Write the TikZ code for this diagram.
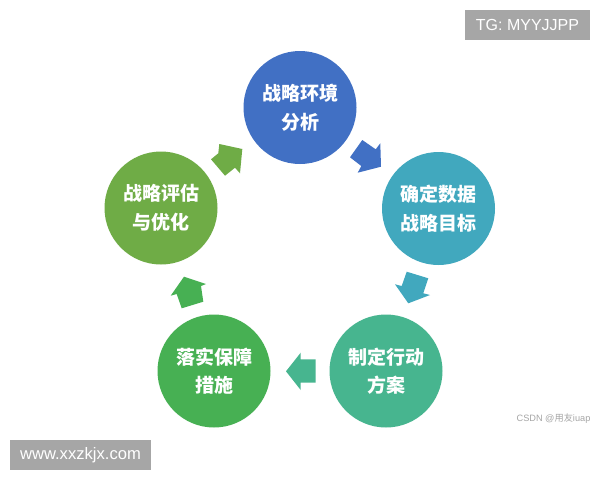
\documentclass[tikz,border=0pt]{standalone}
\usepackage{fontspec}
\setmainfont{Liberation Sans}
\newfontfamily\cjkfont{Noto Sans CJK SC}
\usepackage{tikz}
\begin{document}
\begin{tikzpicture}[x=1pt,y=-1pt,line cap=rect]
	\definecolor{custcol_blue}{RGB}{65, 112, 196}
	\definecolor{custcol_teal}{RGB}{65, 168, 190}
	\definecolor{custcol_mint}{RGB}{71, 181, 143}
	\definecolor{custcol_green}{RGB}{71, 176, 83}
	\definecolor{custcol_olive}{RGB}{111, 172, 70}
	\definecolor{custcol_mark}{RGB}{166, 166, 166}
	\tikzset{
		stagecircle/.style={circle, inner sep=0, outer sep=0, minimum size=113pt, align=center, text=white,
			font=\cjkfont\bfseries\fontsize{19pt}{28.5pt}\selectfont},
		markbox/.style={inner sep=0, outer sep=0, fill=custcol_mark, text=white, font=\fontsize{16pt}{16pt}\selectfont}
	}
	\useasboundingbox [fill=white] (0,0) rectangle (600,480);
	% circles
	\node[stagecircle, fill=custcol_blue] (envnode) at (300,107.5) {战略环境\\分析};
	\node[stagecircle, fill=custcol_teal] (goalnode) at (438.5,208.5) {确定数据\\战略目标};
	\node[stagecircle, fill=custcol_mint] (plannode) at (386,371) {制定行动\\方案};
	\node[stagecircle, fill=custcol_green] (safenode) at (214,371) {落实保障\\措施};
	\node[stagecircle, fill=custcol_olive] (evalnode) at (161,208) {战略评估\\与优化};
	% arrows
	\fill [custcol_blue] (362.3,140) -- (375.7,149.3) -- (380.3,143.3) -- (381,166.7) -- (357.7,172.7) -- (361.3,166) -- (350,157.3) -- cycle;
	\fill [custcol_teal] (406.7,271.7) -- (428.3,278.3) -- (423.3,293.3) -- (430,295) -- (408.3,303.3) -- (395,284.3) -- (401.7,286) -- cycle;
	\fill [custcol_mint] (315.7,359.3) -- (315.7,382.7) -- (300.7,382.7) -- (300.7,390) -- (286,371.3) -- (300.7,352.7) -- (300.7,359.3) -- cycle;
	\fill [custcol_green] (181.7,308.3) -- (203.3,301.7) -- (201,286) -- (206,284) -- (184,276.7) -- (170.7,295.7) -- (176.7,294) -- cycle;
	\fill [custcol_olive] (225,175.7) -- (211,159.3) -- (218.3,153.3) -- (219.3,144) -- (242.3,149) -- (240,173.3) -- (235,167.7) -- cycle;
	% watermarks
	\node[markbox, minimum width=125pt, minimum height=30pt] (tgmark) at (527.5,25) {TG: MYYJJPP};
	\node[markbox, minimum width=141pt, minimum height=30pt, font=\fontsize{16.6pt}{16.6pt}\selectfont] (sitemark) at (80.5,455) {www.xxzkjx.com};
	\node[inner sep=0, outer sep=0, text=custcol_mark, font=\fontsize{9.2pt}{9.2pt}\selectfont] (csdnmark) at (553.5,418.5) {CSDN @{\cjkfont 用友}iuap};
\end{tikzpicture}
\end{document}
